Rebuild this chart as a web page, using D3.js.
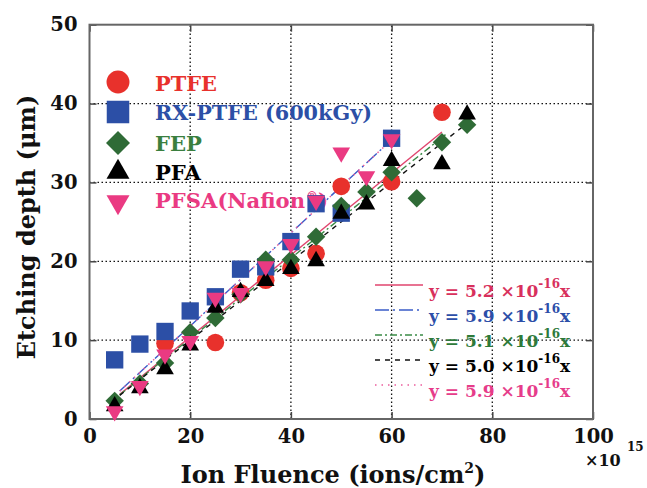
<!DOCTYPE html>
<html>
<head>
<meta charset="utf-8">
<script src="https://cdn.jsdelivr.net/npm/d3@7"></script>
<style>
body { margin:0; background:#fff; }
svg text { font-family: "DejaVu Serif", serif; font-weight: bold; }
</style>
</head>
<body>
<script>
// data: [fluence (x1e15 ions/cm2), depth (um)]
var ptfe = [[15,9.6],[25,9.7],[30,16],[35,17.6],[40,19.1],[45,21],[50,29.5],[60,30.1],[70,38.9]];
var rxptfe = [[5,7.5],[10,9.5],[15,11.1],[20,13.7],[25,15.5],[30,19.0],[35,19.3],[40,22.5],[45,27.3],[50,26.1],[60,35.6]];
var fep = [[5,2.3],[10,4.5],[15,7.1],[20,11],[25,12.8],[30,15.8],[35,20.2],[40,20.2],[45,23.1],[50,27],[55,28.8],[60,31.3],[65,28],[70,35.1],[75,37.3]];
var pfa = [[5,1.5],[10,3.8],[15,6.2],[20,9.2],[25,14],[30,16],[35,17.4],[40,18.9],[45,19.9],[50,25.9],[55,27.1],[60,32.6],[70,32.2],[75,38.5]];
var pfsa = [[5,1.1],[10,4.3],[15,8.3],[20,10],[25,15.5],[30,16.1],[35,19.5],[40,22.3],[45,27.8],[50,33.9],[55,30.9],[60,35.6]];

var seriesNames = ['PTFE', 'RX-PTFE (600kGy)', 'FEP', 'PFA', 'PFSA(Nafion'];
var slopes = [5.2, 5.9, 5.1, 5.0, 5.9];       // x 1e-16
var fitRange = [[6,70],[6,59],[6,71],[6,75],[6,60]];

var xTicks = [0, 20, 40, 60, 80, 100];
var yTicks = [0, 10, 20, 30, 40, 50];

var W = 647, H = 488;
var svg = d3.select('body').append('svg').attr('width', W).attr('height', H);

var x = d3.scaleLinear().domain([0, 100]).range([89.5, 593]);
var y = d3.scaleLinear().domain([0, 50]).range([419, 24.7]);

// grid
var grid = svg.append('g');
grid.selectAll('.gx').data(xTicks.slice(1, -1)).enter().append('line')
	.attr('x1', function(d){ return x(d); }).attr('x2', function(d){ return x(d); })
	.attr('y1', y(0)).attr('y2', y(50))
	.attr('stroke', '#111').attr('stroke-width', 1.3).attr('stroke-dasharray', '1.5,2.5');
grid.selectAll('.gy').data(yTicks.slice(1, -1)).enter().append('line')
	.attr('y1', function(d){ return y(d); }).attr('y2', function(d){ return y(d); })
	.attr('x1', x(0)).attr('x2', x(100))
	.attr('stroke', '#111').attr('stroke-width', 1.3).attr('stroke-dasharray', '1.5,2.5');

// axes
var xAxis = svg.append('g').attr('transform', 'translate(0,' + y(0) + ')')
	.call(d3.axisBottom(x).tickValues(xTicks).tickSizeInner(-7).tickSizeOuter(0).tickPadding(10));
var xAxisTop = svg.append('g').attr('transform', 'translate(0,' + y(50) + ')')
	.call(d3.axisTop(x).tickValues(xTicks).tickSizeInner(-7).tickSizeOuter(0).tickFormat(''));
var yAxis = svg.append('g').attr('transform', 'translate(' + x(0) + ',0)')
	.call(d3.axisLeft(y).tickValues(yTicks).tickSizeInner(-7).tickSizeOuter(0).tickPadding(12));
var yAxisR = svg.append('g').attr('transform', 'translate(' + x(100) + ',0)')
	.call(d3.axisRight(y).tickValues(yTicks).tickSizeInner(-7).tickSizeOuter(0).tickFormat(''));

[xAxis, xAxisTop, yAxis, yAxisR].forEach(function(a){
	a.select('.domain').remove();
	a.selectAll('line').attr('stroke', '#444').attr('stroke-width', 1.5);
	a.selectAll('text').attr('font-family', 'DejaVu Serif').attr('font-weight', 'bold')
		.attr('font-size', 19.5).attr('fill', '#111');
});

svg.append('rect')
	.attr('x', x(0)).attr('y', y(50))
	.attr('width', x(100) - x(0)).attr('height', y(0) - y(50))
	.attr('fill', 'none').attr('stroke', '#666').attr('stroke-width', 2);

// x10^15
svg.append('text').attr('x', 585).attr('y', 466).attr('font-size', 16).attr('fill', '#111')
	.text('\u00D710');
svg.append('text').attr('x', 627).attr('y', 451).attr('font-size', 12).attr('fill', '#111')
	.text('15');

// axis titles
var xl = svg.append('text').attr('x', 333).attr('y', 483).attr('text-anchor', 'middle')
	.attr('font-size', 24).attr('fill', '#111');
xl.append('tspan').text('Ion Fluence (ions/cm');
xl.append('tspan').attr('dy', -10).attr('font-size', 14).text('2');
xl.append('tspan').attr('dy', 10).text(')');

svg.append('text')
	.attr('transform', 'translate(35,227) rotate(-90)')
	.attr('text-anchor', 'middle').attr('font-size', 24).attr('fill', '#111')
	.text('Etching depth (\u03BCm)');

// colours / styles
var markColors = ['#e8312c', '#2c4fa6', '#2f6b36', '#000000', '#ea3a82'];
var textColors = ['#e8312c', '#2c4fa6', '#3a7f3f', '#000000', '#ea3a82'];
var fitColors = ['#e0456e', '#3a5cc8', '#3a8a45', '#111111', '#ec5c9c'];
var eqColors = ['#d8305c', '#2c4ea8', '#2e7a3a', '#000000', '#e63c8a'];
var fitDash = [null, '14,4,2,4', '7,3,2,3', '5,5', '1.5,5'];
var allData = [ptfe, rxptfe, fep, pfa, pfsa];

function sym(i, s){
	var types = [d3.symbolCircle, d3.symbolSquare, d3.symbolSquare, d3.symbolTriangle, d3.symbolTriangle];
	var sizes = [245, 300, 170, 135, 135];
	return d3.symbol().type(types[i]).size(sizes[i] * s * s)();
}
function symTransform(i){
	if(i == 2) return ' rotate(45)';
	if(i == 3) return ' translate(0,-1)';
	if(i == 4) return ' rotate(180) translate(0,-1)';
	return '';
}

// legend (upper left)
var leg = svg.append('g');
var legY = [82, 112, 143, 173, 201];
var legBase = [90.5, 120, 150.5, 180, 208];
var legLen = [62, 217, 47, 46, 150];
seriesNames.forEach(function(n, i){
	leg.append('path').attr('d', sym(i, 1.3))
		.attr('transform', 'translate(118,' + legY[i] + ')' + symTransform(i))
		.attr('fill', markColors[i]);
	leg.append('text').attr('x', 155).attr('y', legBase[i])
		.attr('font-size', 21).attr('fill', textColors[i])
		.attr('textLength', legLen[i]).attr('lengthAdjust', 'spacingAndGlyphs')
		.text(n);
});
var reg = leg.append('text').attr('x', 306).attr('y', legBase[4] - 7)
	.attr('font-size', 12).attr('fill', textColors[4]);
reg.append('tspan').text('\u00AE');
reg.append('tspan').attr('font-size', 21).attr('dy', 7).text(')');

// fit lines
var line = d3.line().x(function(d){ return x(d[0]); }).y(function(d){ return y(d[1]); });
slopes.forEach(function(s, i){
	var pts = fitRange[i].map(function(v){ return [v, s * v / 10]; });
	svg.append('path').datum(pts).attr('d', line)
		.attr('fill', 'none').attr('stroke', fitColors[i]).attr('stroke-width', 1.4)
		.attr('stroke-dasharray', fitDash[i]);
});

// points
allData.forEach(function(data, i){
	svg.append('g').selectAll('path').data(data).enter().append('path')
		.attr('d', sym(i, 1))
		.attr('transform', function(d){ return 'translate(' + x(d[0]) + ',' + y(d[1]) + ')' + symTransform(i); })
		.attr('fill', markColors[i]);
});

// equation legend
var eqBase = [297, 322, 347, 372, 397];
slopes.forEach(function(s, i){
	svg.append('line').attr('x1', 375).attr('x2', 423)
		.attr('y1', eqBase[i] - 12).attr('y2', eqBase[i] - 12)
		.attr('stroke', fitColors[i]).attr('stroke-width', 1.4)
		.attr('stroke-dasharray', fitDash[i]);
	var t = svg.append('text').attr('x', 429).attr('y', eqBase[i])
		.attr('font-size', 17).attr('fill', eqColors[i]);
	t.append('tspan').text('y = ' + s.toFixed(1) + ' \u00D710');
	t.append('tspan').attr('dy', -9).attr('font-size', 12).text('-16');
	t.append('tspan').attr('dy', 9).text('x');
});
</script>
</body>
</html>
